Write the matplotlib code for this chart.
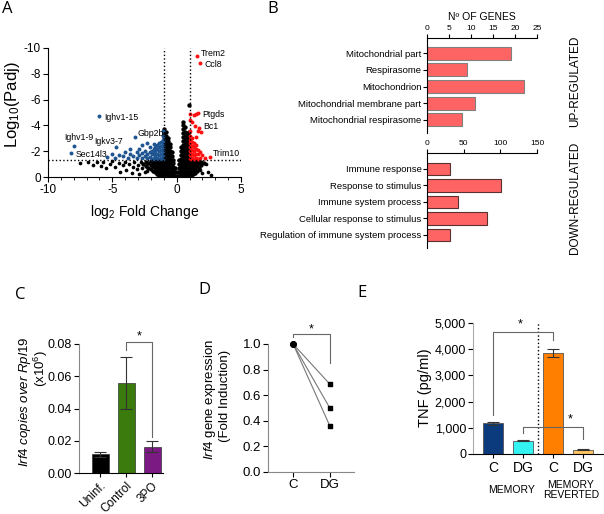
import matplotlib
matplotlib.use('Agg')
import matplotlib.pyplot as plt
import numpy as np

plt.rcParams['font.family'] = ['Liberation Sans', 'DejaVu Sans']
plt.rcParams['mathtext.fontset'] = 'custom'
plt.rcParams['mathtext.rm'] = 'Liberation Sans'
plt.rcParams['mathtext.it'] = 'Liberation Sans:italic'
plt.rcParams['mathtext.default'] = 'regular'
plt.rcParams['axes.unicode_minus'] = False
plt.rcParams['axes.linewidth'] = 0.8

# ---------------- A: volcano (log2 FC vs log10 Padj, as drawn on the axis) ----------------
# dense centre, one column of genes per fold change value
core_fc = [-0.97, -0.85, -0.7, -0.55, -0.4, -0.25, -0.1, 0.05, 0.2, 0.35, 0.5, 0.65, 0.8, 0.95]
core_p = [
    [-0.1, -0.4, -0.7, -1.0, -1.3, -1.6, -1.9, -2.2, -2.5, -2.8, -3.1, -3.4, -3.75],
    [-0.2, -0.5, -0.8, -1.1, -1.4, -1.7, -2.0, -2.3, -2.6, -2.9, -3.2, -3.45],
    [-0.1, -0.4, -0.7, -1.0, -1.3, -1.6, -1.9, -2.2, -2.5, -2.8, -3.0],
    [-0.2, -0.5, -0.8, -1.1, -1.4, -1.7, -2.0, -2.3, -2.55],
    [-0.1, -0.4, -0.7, -1.0, -1.3, -1.6, -1.9],
    [-0.15, -0.45, -0.75, -1.05, -1.35],
    [-0.1, -0.4, -0.7],
    [-0.1, -0.35],
    [-0.1, -0.4, -0.7, -1.0, -1.3],
    [-0.2, -0.5, -0.8, -1.1, -1.4, -1.7, -2.0, -2.3],
    [-0.1, -0.4, -0.7, -1.0, -1.3, -1.6, -1.9, -2.2, -2.5, -2.8, -3.1, -3.4, -3.7, -4.0, -4.3],
    [-0.2, -0.5, -0.8, -1.1, -1.4, -1.7, -2.0, -2.3, -2.6, -2.9, -3.2, -3.5, -3.85],
    [-0.1, -0.4, -0.7, -1.0, -1.3, -1.6, -1.9, -2.2, -2.5, -2.8, -3.1, -3.4],
    [-0.2, -0.5, -0.8, -1.1, -1.4, -1.7, -2.0, -2.3, -2.6, -2.9, -3.2, -3.5, -5.6],
]
# non significant genes just outside the fold change cut
wing_fc = [-2.6, -2.4, -2.2, -2.0, -1.85, -1.7, -1.55, -1.4, -1.25, -1.1,
           1.1, 1.25, 1.4, 1.55, 1.7, 1.9, 2.1]
wing_p = [[-1.0], [-0.85, -1.2], [-0.7, -1.05], [-0.6, -0.95, -1.25], [-0.5, -0.85, -1.15],
          [-0.4, -0.7, -1.0, -1.25], [-0.25, -0.55, -0.85, -1.15], [-0.1, -0.4, -0.7, -1.0, -1.25],
          [-0.2, -0.5, -0.8, -1.1], [-0.1, -0.4, -0.7, -1.0, -1.25],
          [-0.1, -0.4, -0.7, -1.0, -1.25], [-0.2, -0.5, -0.8, -1.1], [-0.3, -0.6, -0.9, -1.2],
          [-0.5, -0.85, -1.15], [-0.7, -1.05], [-0.9, -1.2], [-1.1]]
# scattered non significant genes
ns_fc = [-7.5, -6.9, -6.5, -6.2, -5.9, -5.7, -5.5, -5.2, -5.0, -4.8, -4.5, -4.4, -4.2, -4.0, -3.9,
         -3.7, -3.5, -3.4, -3.3, -3.1, -3.0, -2.9, -2.8, -2.7, -2.5, -2.3, 1.8, 2.0, 2.3, 2.4, 2.7]
ns_p = [-1.05, -1.2, -0.95, -1.15, -0.85, -1.2, -0.7, -1.0, -1.25, -0.8, -1.1, -0.4, -0.9, -1.2, -0.55,
        -1.0, -0.3, -0.8, -1.15, -0.6, -0.95, -0.2, -1.2, -0.7, -0.4, -0.5, -0.55, -0.3, -1.0, -0.4, -0.15]
# significant down-regulated genes
down_genes = [(-1.05, -1.4), (-1.05, -1.7), (-1.05, -2.0), (-1.05, -2.3), (-1.05, -2.6), (-1.05, -2.9),
              (-1.05, -3.2), (-1.08, -3.6), (-1.2, -1.5), (-1.2, -1.8), (-1.2, -2.1), (-1.2, -2.4),
              (-1.2, -2.7), (-1.35, -1.4), (-1.35, -1.7), (-1.35, -2.0), (-1.35, -2.3), (-1.35, -2.6),
              (-1.5, -1.5), (-1.5, -1.8), (-1.5, -2.15), (-1.5, -2.45), (-1.65, -1.4), (-1.65, -1.7),
              (-1.65, -2.0), (-1.65, -2.3), (-1.8, -1.5), (-1.8, -1.8), (-1.8, -2.15), (-1.8, -2.55),
              (-1.95, -1.4), (-1.95, -1.75), (-1.95, -2.05), (-2.1, -1.55), (-2.1, -1.9), (-2.1, -2.3),
              (-2.3, -1.45), (-2.3, -1.8), (-2.3, -2.6), (-2.5, -1.6), (-2.5, -2.0), (-2.7, -1.5),
              (-2.7, -1.85), (-2.7, -2.5), (-2.9, -1.7), (-2.9, -2.2), (-3.1, -1.5), (-3.1, -1.9),
              (-3.26, -3.1), (-3.4, -1.6), (-3.6, -1.8), (-3.6, -2.2), (-3.8, -1.5), (-4.0, -1.9),
              (-4.2, -1.6), (-4.5, -1.7), (-4.72, -2.35), (-4.8, -1.5), (-5.0, -1.8), (-5.4, -1.55),
              (-6.05, -4.73), (-7.98, -2.4), (-8.2, -1.88)]
# significant up-regulated genes
up_genes_v = [(1.05, -1.4), (1.05, -1.7), (1.05, -2.0), (1.05, -2.3), (1.05, -2.6), (1.05, -2.9),
              (1.05, -3.2), (1.05, -3.6), (1.05, -4.4), (1.05, -4.9), (1.2, -1.5), (1.2, -1.8),
              (1.2, -2.1), (1.2, -2.4), (1.2, -2.7), (1.2, -3.0), (1.2, -4.3), (1.35, -1.4),
              (1.35, -1.7), (1.35, -2.0), (1.35, -2.3), (1.35, -2.6), (1.35, -4.8), (1.5, -1.5),
              (1.5, -1.8), (1.5, -2.15), (1.5, -2.5), (1.5, -3.1), (1.5, -4.9), (1.65, -1.4),
              (1.65, -1.75), (1.65, -2.1), (1.65, -3.6), (1.65, -5.0), (1.8, -1.5), (1.8, -1.9),
              (1.75, -3.8), (1.9, -3.5), (1.45, -3.95), (2.0, -1.7), (2.2, -1.5), (2.6, -1.55),
              (1.6, -9.35), (1.8, -8.8)]
gene_names = ['Trem2', 'Ccl8', 'Ptgds', 'Bc1', 'Trim10', 'Ighv1-15', 'Gbp2b', 'Ighv1-9', 'Igkv3-7', 'Sec14l3']
gene_label_pos = [(1.84, -9.6), (2.17, -8.7), (1.95, -4.86), (2.1, -3.9), (2.8, -1.84),
                  (-5.66, -4.6), (-3.08, -3.39), (-8.76, -3.08), (-6.41, -2.74), (-7.83, -1.78)]

# ---------------- B: GO terms ----------------
up_terms = ['Mitochondrial part', 'Respirasome', 'Mitochondrion',
            'Mitochondrial membrane part', 'Mitochondrial respirasome']
up_counts = [19, 9, 22, 11, 8]
down_terms = ['Immune response', 'Response to stimulus', 'Immune system process',
              'Cellular response to stimulus', 'Regulation of immune system process']
down_counts = [32, 101, 42, 82, 31]

# ---------------- C ----------------
c_groups = ['Uninf.', 'Control', '3PO']
c_means = [0.0116, 0.0556, 0.0163]
c_err = [0.0016, 0.0161, 0.0035]
c_colors = ['#000000', '#3b7a0c', '#7b1a82']

# ---------------- D ----------------
d_groups = ['C', 'DG']
d_c = [1.0, 1.0, 1.0]
d_dg = [0.685, 0.497, 0.357]

# ---------------- E ----------------
e_groups = ['C', 'DG', 'C', 'DG']
e_means = [1170, 508, 3843, 165]
e_err = [60, 15, 150, 15]
e_colors = ['#0b3b7c', '#33f2f2', '#ff8000', '#ffc462']


def px(x, y):
    return x / 604, 1 - y / 514


def rect(l, t, r, b):
    return [l / 604, 1 - b / 514, (r - l) / 604, (b - t) / 514]


fig = plt.figure(figsize=(6.04, 5.14), dpi=100)
letter_font = dict(fontsize=12, ha='center', va='center', family=['Open Sans', 'DejaVu Sans'])

# ===== A =====
ax = fig.add_axes(rect(48, 48, 241, 177))
cx = [x for x, col in zip(core_fc, core_p) for _ in col]
cy = [y for col in core_p for y in col]
wx = [x for x, col in zip(wing_fc, wing_p) for _ in col]
wy = [y for col in wing_p for y in col]
ax.scatter(cx + wx, cy + wy, s=10, c='k', lw=0)
ax.scatter(ns_fc, ns_p, s=7, c='k', lw=0)
ax.scatter([g[0] for g in down_genes], [g[1] for g in down_genes], s=8, c='#1f5591', lw=0)
ax.scatter([g[0] for g in up_genes_v], [g[1] for g in up_genes_v], s=8, c='#ff1010', lw=0)
ax.axhline(-1.3, color='k', ls=':', lw=1)
ax.plot([-1, -1], [0, -10], 'k:', lw=1)
ax.plot([1, 1], [0, -10], 'k:', lw=1)
for name, (gx, gy) in zip(gene_names, gene_label_pos):
    ax.text(gx, gy, name, fontsize=6.3, ha='left', va='center')
ax.set_xlim(-10, 5)
ax.set_ylim(0, -10)
ax.set_xticks([-10, -5, 0, 5])
ax.set_xticks(np.arange(-10, 6, 1), minor=True)
ax.set_yticks([0, -2, -4, -6, -8, -10])
ax.tick_params(labelsize=8.5, length=3.5, pad=1.5)
ax.tick_params(which='minor', length=2)
ax.spines[['top', 'right']].set_visible(False)
fig.text(*px(13, 105), r'Log$_{10}$(Padj)', rotation=90, ha='center', va='center', fontsize=12)
fig.text(*px(145, 212), r'log$_2$ Fold Change', ha='center', va='center', fontsize=10)
fig.text(*px(7, 9), 'A', **letter_font)

# ===== B =====
pos = np.arange(5)
axu = fig.add_axes(rect(427, 38, 537, 133))
axu.barh(pos, up_counts, height=0.78, color='#ff6464', edgecolor='#808080', lw=0.8)
axu.set_xlim(0, 25)
axu.set_ylim(4.78, -0.9)
axu.set_xticks([0, 5, 10, 15, 20, 25])
axu.set_yticks(pos, up_terms)
axl = fig.add_axes(rect(427, 153, 537, 248))
axl.barh(pos, down_counts, height=0.78, color='#ff6464', edgecolor='#5a3030', lw=0.8)
axl.set_xlim(0, 150)
axl.set_ylim(4.79, -0.97)
axl.set_xticks([0, 50, 100, 150])
axl.set_yticks(pos, down_terms)
for a in (axu, axl):
    a.xaxis.tick_top()
    a.spines[['bottom', 'right']].set_visible(False)
    a.tick_params(axis='x', labelsize=6, length=3, pad=1)
    a.tick_params(axis='y', labelsize=6.8, length=3, pad=1)
fig.text(*px(482, 17), 'Nº OF GENES', ha='center', va='center', fontsize=7.5)
fig.text(*px(575, 81), 'UP-REGULATED', rotation=90, ha='center', va='center', fontsize=8.5)
fig.text(*px(575, 198), 'DOWN-REGULATED', rotation=90, ha='center', va='center', fontsize=8.5)
fig.text(*px(273, 9), 'B', **letter_font)

# ===== C =====
axc = fig.add_axes(rect(79, 344, 163, 473))
axc.bar(range(3), c_means, width=0.65, color=c_colors, edgecolor='#333333', lw=0.5,
        yerr=c_err, capsize=4, error_kw=dict(ecolor='#333333', elinewidth=0.8, capthick=0.8))
axc.set_xlim(-0.81, 2.42)
axc.set_ylim(0, 0.08)
axc.set_yticks([0, 0.02, 0.04, 0.06, 0.08], ['0.00', '0.02', '0.04', '0.06', '0.08'])
axc.set_xticks(range(3), c_groups, rotation=45, ha='right', rotation_mode='anchor')
axc.tick_params(axis='y', labelsize=9, length=3.5, pad=1.5)
axc.tick_params(axis='x', labelsize=8.5, length=3, pad=2)
axc.spines[['top', 'right']].set_visible(False)
axc.spines['left'].set_color('#888888')
axc.plot([1, 1, 2, 2], [0.0763, 0.081, 0.081, 0.0225], color='#666666', lw=0.8, clip_on=False)
axc.text(1.5, 0.0845, '*', ha='center', va='center', fontsize=9)
fig.text(*px(25, 402), r'$\it{Irf4\ copies\ over\ Rpl19}$', rotation=90, ha='center', va='center', fontsize=9.5)
fig.text(*px(41, 369), '(x10$^{6}$)', rotation=90, ha='center', va='center', fontsize=9.5)
fig.text(*px(20, 295), 'C', **letter_font)

# ===== D =====
axd = fig.add_axes(rect(268, 344, 354, 472))
for v0, v1 in zip(d_c, d_dg):
    axd.plot([0, 1], [v0, v1], color='#777777', lw=0.8)
axd.scatter([0] * 3, d_c, marker='o', s=14, c='k', zorder=3, clip_on=False)
axd.scatter([1] * 3, d_dg, marker='s', s=12, c='k', zorder=3)
axd.set_xlim(-0.68, 1.65)
axd.set_ylim(0, 1.0)
axd.set_xticks([0, 1], d_groups)
axd.set_yticks(np.arange(0, 1.01, 0.2), ['0.0', '0.2', '0.4', '0.6', '0.8', '1.0'])
axd.tick_params(labelsize=9.5, length=3.5, pad=1.5)
axd.spines[['top', 'right']].set_visible(False)
axd.spines[['left', 'bottom']].set_color('#888888')
axd.plot([0, 0, 1, 1], [1.057, 1.076, 1.076, 0.85], color='#666666', lw=0.8, clip_on=False)
axd.text(0.5, 1.115, '*', ha='center', va='center', fontsize=9)
fig.text(*px(210, 399), r'$\it{Irf4}$ gene expression', rotation=90, ha='center', va='center', fontsize=9.5)
fig.text(*px(225, 396), '(Fold Induction)', rotation=90, ha='center', va='center', fontsize=9.5)
fig.text(*px(204, 290), 'D', **letter_font)

# ===== E =====
axe = fig.add_axes(rect(473, 323, 603, 454))
axe.bar(range(4), e_means, width=0.67, color=e_colors, edgecolor='#555555', lw=0.6,
        yerr=e_err, capsize=4, error_kw=dict(ecolor='#333333', elinewidth=0.8, capthick=0.8))
axe.set_xlim(-0.67, 3.67)
axe.set_ylim(0, 5000)
axe.set_yticks([0, 1000, 2000, 3000, 4000, 5000], ['0', '1,000', '2,000', '3,000', '4,000', '5,000'])
axe.set_xticks(range(4), e_groups)
axe.tick_params(axis='y', labelsize=9, length=3.5, pad=1.5)
axe.tick_params(axis='x', labelsize=10, length=3, pad=2)
axe.spines[['top', 'right']].set_visible(False)
axe.spines['left'].set_color('#aaaaaa')
axe.plot([1.5, 1.5], [0, 5000], 'k:', lw=1)
axe.plot([0, 0, 2, 2], [1500, 4650, 4650, 4350], color='#666666', lw=0.8, clip_on=False)
axe.text(0.92, 4950, '*', ha='center', va='center', fontsize=9)
axe.plot([1, 1, 3, 3], [790, 1030, 1030, 560], color='#666666', lw=0.8)
axe.text(2.57, 1330, '*', ha='center', va='center', fontsize=9)
axe.text(0.62, -0.275, 'MEMORY', transform=axe.get_xaxis_transform(), ha='center', va='center', fontsize=7.5)
axe.text(2.6, -0.275, 'MEMORY\nREVERTED', transform=axe.get_xaxis_transform(), ha='center', va='center',
         fontsize=7.5, linespacing=1.1)
fig.text(*px(425, 388), 'TNF (pg/ml)', rotation=90, ha='center', va='center', fontsize=10.5)
fig.text(*px(362, 293), 'E', **letter_font)

fig.savefig('out.png', dpi=100)
